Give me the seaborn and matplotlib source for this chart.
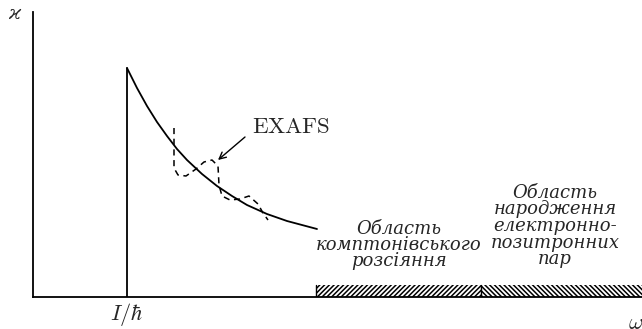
import matplotlib
matplotlib.use("Agg")
import matplotlib.pyplot as plt
import seaborn as sns
import pandas as pd
from matplotlib.patches import Rectangle

# Absorption coefficient above the ionisation edge (frequency, kappa)
edge_x = 94
edge_top = 229
curve_x = [94, 104, 114, 124, 134, 144, 154, 169, 184, 199, 214, 234, 254, 284]
curve_y = [229, 209, 191, 175, 161, 148, 137, 123, 111, 101, 92, 83, 76, 68]

# Fine-structure oscillations (EXAFS) around the smooth curve
exafs_x = [141, 141, 145, 153, 163, 171, 179, 185, 186, 189, 197, 207, 216, 225, 230, 235]
exafs_y = [169, 129, 122, 121, 128, 135, 137, 131, 112, 101, 97, 98, 101, 93, 84, 77]

# Frequency ranges of the other processes
compton_range = [283, 448]
pair_range = [448, 620]
band_height = 12

compton_label = "Область\nкомптонівського\nрозсіяння"
pair_label = "Область\nнародження\nелектронно-\nпозитронних\nпар"

sns.set_theme(style="white")
plt.rcParams["font.family"] = ["DejaVu Serif"]
plt.rcParams["mathtext.fontset"] = "cm"
plt.rcParams["hatch.linewidth"] = 1.1

W, H = 642, 329
fig = plt.figure(figsize=(W / 100, H / 100), dpi=100)
ax = fig.add_axes([33 / W, 32 / H, (W - 33) / W, 285 / H])
ax.set_xlim(0, W - 33)
ax.set_ylim(0, 285)

curve = pd.DataFrame({"omega": curve_x, "kappa": curve_y})
sns.lineplot(data=curve, x="omega", y="kappa", ax=ax, color="black", lw=1.3,
             sort=False, estimator=None)
ax.plot([edge_x, edge_x], [0, edge_top], color="black", lw=1.3)

exafs = pd.DataFrame({"omega": exafs_x, "kappa": exafs_y})
sns.lineplot(data=exafs, x="omega", y="kappa", ax=ax, color="black", lw=1.1,
             sort=False, estimator=None, linestyle=(0, (4, 3)))

ax.text(258, 170, r"$\mathrm{EXAFS}$", ha="center", va="center", fontsize=16.5)
ax.annotate("", xy=(185, 137), xytext=(212, 160),
            arrowprops=dict(arrowstyle="->", color="black", lw=1.0,
                            shrinkA=0, shrinkB=0))

for rng, hatch in ((compton_range, "///////"), (pair_range, "\\\\\\\\\\\\\\")):
    ax.add_patch(Rectangle((rng[0], 0), rng[1] - rng[0], band_height,
                           facecolor="none", edgecolor="black", lw=0,
                           hatch=hatch, clip_on=False))
    ax.plot([rng[0], rng[0]], [0, band_height], color="black", lw=1.0)

ax.text(366, 52, compton_label, ha="center", va="center", fontsize=13,
        style="italic", linespacing=0.87)
ax.text(522, 71, pair_label, ha="center", va="center", fontsize=13,
        style="italic", linespacing=0.9)

ax.text(-19, 283, "ϰ", ha="center", va="center", fontsize=14, style="italic")
ax.text(edge_x, -17, r"$I/\hbar$", ha="center", va="center", fontsize=16)
ax.text(603, -26, r"$\omega$", ha="center", va="center", fontsize=16)

ax.set_xticks([])
ax.set_yticks([])
ax.set_xlabel("")
ax.set_ylabel("")
for side in ("top", "right"):
    ax.spines[side].set_visible(False)
for side in ("left", "bottom"):
    ax.spines[side].set_color("black")
    ax.spines[side].set_linewidth(1.3)

fig.savefig("out.png", dpi=100)
